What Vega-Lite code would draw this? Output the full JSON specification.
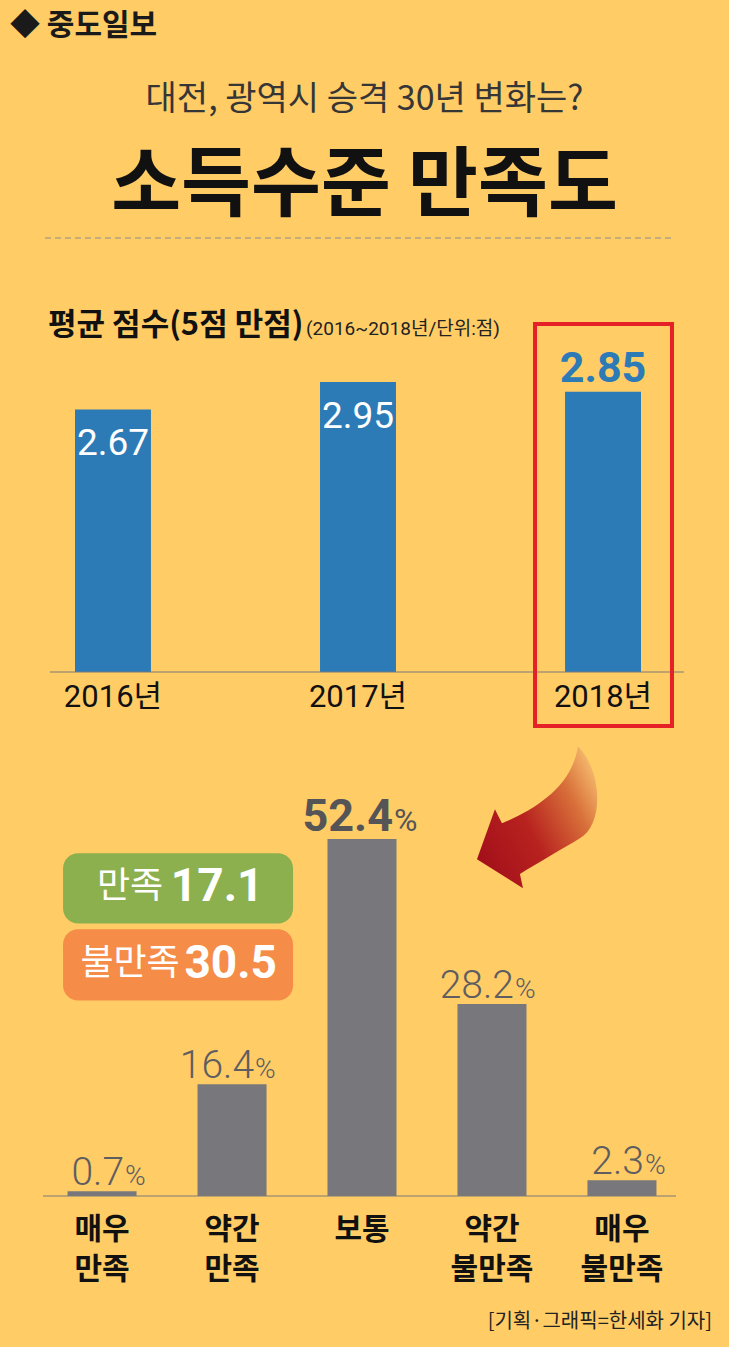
{
  "$schema": "https://vega.github.io/schema/vega-lite/v6.json",
  "background": "#FFCC66",
  "padding": {"left": 10, "right": 10, "top": 11, "bottom": 15},
  "spacing": 15,
  "title": {"text": "◆ 중도일보", "anchor": "start", "fontSize": 30, "fontWeight": "bold", "font": "Noto Sans CJK KR", "color": "#1a1a1a", "offset": 42},
  "config": {
    "view": {"stroke": null},
    "font": "Noto Sans CJK KR",
    "title": {"font": "Noto Sans CJK KR"}
  },
  "vconcat": [
    {
      "width": 709,
      "height": 57,
      "title": {"text": "대전, 광역시 승격 30년 변화는?", "subtitle": "소득수준 만족도", "anchor": "middle", "font": "Noto Sans CJK KR", "fontSize": 34, "fontWeight": "normal", "color": "#363636", "subtitleFont": "Noto Sans CJK KR", "subtitleFontSize": 76, "subtitleFontWeight": "bold", "subtitleColor": "#111111", "subtitlePadding": 33, "offset": 12},
      "data": {"values": [{}]},
      "mark": {"type": "rule", "strokeDash": [6, 4], "stroke": "#8c8c8c", "strokeWidth": 1.2},
      "encoding": {
        "x": {"datum": 0.0494, "type": "quantitative", "scale": {"domain": [0, 1]}, "axis": null},
        "x2": {"datum": 0.9337},
        "y": {"datum": 1, "type": "quantitative", "scale": {"domain": [0, 1]}, "axis": null}
      }
    },
    {
      "width": 696,
      "height": 354,
      "data": {"values": [
        {"year": "2016년", "score": 2.67},
        {"year": "2017년", "score": 2.95},
        {"year": "2018년", "score": 2.85}
      ]},
      "layer": [
        {
          "mark": {"type": "bar", "color": "#2C7BB6"},
          "encoding": {
            "x": {"field": "year", "type": "nominal", "scale": {"domain": ["2016년", "2017년", "2018년"], "paddingInner": 0.69, "paddingOuter": 0.2653}, "axis": {"title": null, "labelAngle": 0, "domain": false, "ticks": false, "labelFont": "Roboto, Noto Sans CJK KR, sans-serif", "labelFontSize": 31, "labelColor": "#111111", "labelPadding": 10}},
            "y": {"field": "score", "type": "quantitative", "scale": {"domain": [0, 3.6], "nice": false, "zero": true}, "axis": null}
          }
        },
        {
          "data": {"values": [{}]},
          "mark": {"type": "rule", "stroke": "#7a7a7a", "strokeWidth": 1},
          "encoding": {
            "x": {"datum": "2016년", "bandPosition": -0.33},
            "x2": {"datum": "2018년", "bandPosition": 1.566},
            "y": {"datum": 0}
          }
        },
        {
          "transform": [{"filter": "datum.year != '2018년'"}],
          "mark": {"type": "text", "baseline": "top", "dy": 17, "color": "white", "font": "Roboto, sans-serif", "fontSize": 37},
          "encoding": {
            "x": {"field": "year", "type": "nominal"},
            "y": {"field": "score", "type": "quantitative"},
            "text": {"field": "score", "type": "quantitative", "format": ".2f"}
          }
        },
        {
          "transform": [{"filter": "datum.year == '2018년'"}],
          "mark": {"type": "text", "baseline": "alphabetic", "dy": -10, "color": "#2C7BB6", "font": "Roboto, sans-serif", "fontSize": 43, "fontWeight": "bold"},
          "encoding": {
            "x": {"field": "year", "type": "nominal"},
            "y": {"field": "score", "type": "quantitative"},
            "text": {"field": "score", "type": "quantitative", "format": ".2f"}
          }
        },
        {
          "data": {"values": [{}]},
          "mark": {"type": "rect", "fill": null, "stroke": "#E52027", "strokeWidth": 4},
          "encoding": {
            "x": {"datum": "2018년", "bandPosition": -0.395},
            "x2": {"datum": "2018년", "bandPosition": 1.408},
            "y": {"datum": 3.54},
            "y2": {"datum": -0.548}
          }
        },
        {
          "data": {"values": [{}]},
          "mark": {"type": "text", "text": "평균 점수(5점 만점)", "align": "left", "baseline": "middle", "font": "Noto Sans CJK KR", "fontSize": 31, "fontWeight": "bold", "color": "#111111"},
          "encoding": {
            "x": {"datum": "2016년", "bandPosition": -0.355},
            "y": {"datum": 3.515}
          }
        },
        {
          "data": {"values": [{}]},
          "mark": {"type": "text", "text": "(2016~2018년/단위:점)", "align": "left", "baseline": "middle", "font": "Roboto, Noto Sans CJK KR, sans-serif", "fontSize": 19, "color": "#222222"},
          "encoding": {
            "x": {"datum": "2017년", "bandPosition": -0.184},
            "y": {"datum": 3.485}
          }
        }
      ]
    },
    {
      "width": 704,
      "height": 453,
      "title": {"text": "[기획·그래픽=한세화 기자]", "orient": "bottom", "anchor": "end", "font": "Noto Sans CJK KR", "fontSize": 20, "fontWeight": "normal", "color": "#222222", "offset": 28, "dx": -2},
      "data": {"values": [
        {"cat": "매우 만족", "pct": 0.7},
        {"cat": "약간 만족", "pct": 16.4},
        {"cat": "보통", "pct": 52.4},
        {"cat": "약간 불만족", "pct": 28.2},
        {"cat": "매우 불만족", "pct": 2.3}
      ]},
      "layer": [
        {
          "mark": {"type": "bar", "color": "#78787C"},
          "encoding": {
            "x": {"field": "cat", "type": "nominal", "scale": {"domain": ["매우 만족", "약간 만족", "보통", "약간 불만족", "매우 불만족"], "paddingInner": 0.469, "paddingOuter": 0.4427}, "axis": {"title": null, "labelAngle": 0, "labelExpr": "split(datum.label, ' ')", "domain": false, "ticks": false, "labelFont": "Noto Sans CJK KR", "labelFontSize": 30, "labelFontWeight": "bold", "labelColor": "#111111", "labelPadding": 18, "labelLineHeight": 40, "labelBaseline": "top"}},
            "y": {"field": "pct", "type": "quantitative", "scale": {"domain": [0, 66.5], "nice": false}, "axis": null}
          }
        },
        {
          "data": {"values": [{}]},
          "mark": {"type": "rule", "stroke": "#7a7a7a", "strokeWidth": 1},
          "encoding": {
            "x": {"datum": "매우 만족", "bandPosition": -0.355},
            "x2": {"datum": "매우 불만족", "bandPosition": 1.283},
            "y": {"datum": 0}
          }
        },
        {
          "transform": [{"filter": "datum.cat != '보통'"}],
          "mark": {"type": "text", "align": "right", "dx": 22, "dy": -6, "baseline": "alphabetic", "font": "Roboto, sans-serif", "fontSize": 39, "fontWeight": 300, "color": "#5e5e60"},
          "encoding": {
            "x": {"field": "cat", "type": "nominal"},
            "y": {"field": "pct", "type": "quantitative"},
            "text": {"field": "pct", "type": "quantitative", "format": ".1f"}
          }
        },
        {
          "transform": [{"filter": "datum.cat != '보통'"}],
          "mark": {"type": "text", "text": "%", "align": "left", "dx": 23, "dy": -6, "baseline": "alphabetic", "font": "Roboto, sans-serif", "fontSize": 28, "fontWeight": 300, "color": "#5e5e60"},
          "encoding": {
            "x": {"field": "cat", "type": "nominal"},
            "y": {"field": "pct", "type": "quantitative"}
          }
        },
        {
          "transform": [{"filter": "datum.cat == '보통'"}],
          "mark": {"type": "text", "align": "right", "dx": 31, "dy": -8, "baseline": "alphabetic", "font": "Roboto, sans-serif", "fontSize": 45, "fontWeight": "bold", "color": "#555557"},
          "encoding": {
            "x": {"field": "cat", "type": "nominal"},
            "y": {"field": "pct", "type": "quantitative"},
            "text": {"field": "pct", "type": "quantitative", "format": ".1f"}
          }
        },
        {
          "transform": [{"filter": "datum.cat == '보통'"}],
          "mark": {"type": "text", "text": "%", "align": "left", "dx": 32, "dy": -8, "baseline": "alphabetic", "font": "Roboto, sans-serif", "fontSize": 32, "color": "#555557"},
          "encoding": {
            "x": {"field": "cat", "type": "nominal"},
            "y": {"field": "pct", "type": "quantitative"}
          }
        },
        {
          "data": {"values": [{"group": "만족", "value": 17.1}]},
          "layer": [
            {
              "mark": {"type": "rect", "cornerRadius": 15, "color": "#8DB04E"},
              "encoding": {
                "x": {"datum": "매우 만족", "bandPosition": -0.065},
                "x2": {"datum": "약간 만족", "bandPosition": 1.384},
                "y": {"datum": 50.3},
                "y2": {"datum": 40.0}
              }
            },
            {
              "mark": {"type": "text", "align": "center", "baseline": "middle", "font": "Noto Sans CJK KR", "fontSize": 36, "color": "white"},
              "encoding": {
                "x": {"datum": "매우 만족", "bandPosition": 0.906},
                "y": {"datum": 45.3},
                "text": {"field": "group"}
              }
            },
            {
              "mark": {"type": "text", "align": "center", "baseline": "middle", "font": "Roboto, sans-serif", "fontSize": 46, "fontWeight": "bold", "color": "white"},
              "encoding": {
                "x": {"datum": "약간 만족", "bandPosition": 0.284},
                "y": {"datum": 45.3},
                "text": {"field": "value", "type": "quantitative", "format": ".1f"}
              }
            }
          ]
        },
        {
          "data": {"values": [{"group": "불만족", "value": 30.5}]},
          "layer": [
            {
              "mark": {"type": "rect", "cornerRadius": 15, "color": "#F58C48"},
              "encoding": {
                "x": {"datum": "매우 만족", "bandPosition": -0.065},
                "x2": {"datum": "약간 만족", "bandPosition": 1.384},
                "y": {"datum": 39.15},
                "y2": {"datum": 28.7}
              }
            },
            {
              "mark": {"type": "text", "align": "center", "baseline": "middle", "font": "Noto Sans CJK KR", "fontSize": 36, "color": "white"},
              "encoding": {
                "x": {"datum": "매우 만족", "bandPosition": 0.906},
                "y": {"datum": 34.0},
                "text": {"field": "group"}
              }
            },
            {
              "mark": {"type": "text", "align": "center", "baseline": "middle", "font": "Roboto, sans-serif", "fontSize": 46, "fontWeight": "bold", "color": "white"},
              "encoding": {
                "x": {"datum": "약간 만족", "bandPosition": 0.48},
                "y": {"datum": 34.0},
                "text": {"field": "value", "type": "quantitative", "format": ".1f"}
              }
            }
          ]
        },
        {
          "data": {"values": [{}]},
          "mark": {
            "type": "point",
            "shape": "M -0.845 0.592 L -0.592 -0.113 L -0.493 0.085 C 0 -0.12 0.5 -0.45 0.577 -1 C 0.92 -0.65 0.95 0.1 0.6 0.3 C 0.35 0.45 0 0.65 -0.24 0.8 L -0.197 1 Z",
            "filled": true,
            "size": 20164,
            "strokeWidth": 0,
            "opacity": 1,
            "fill": {"gradient": "linear", "x1": 0, "y1": 0.75, "x2": 1, "y2": 0.15, "stops": [
              {"offset": 0, "color": "#A3101A"},
              {"offset": 0.4, "color": "#B8231F"},
              {"offset": 0.75, "color": "#D8703A"},
              {"offset": 1, "color": "#F8C071"}
            ]}
          },
          "encoding": {
            "x": {"datum": "약간 불만족", "bandPosition": 1.152},
            "y": {"datum": 55.6}
          }
        }
      ]
    }
  ]
}
